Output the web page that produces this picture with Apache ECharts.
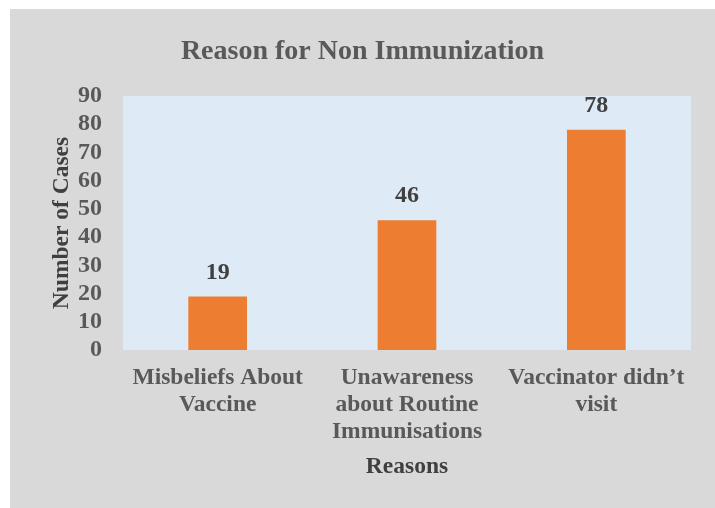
<!DOCTYPE html>
<html><head><meta charset="utf-8">
<script src="https://cdn.jsdelivr.net/npm/echarts@6/dist/echarts.min.js"></script>
<style>html,body{margin:0;padding:0;background:#fff;}#c{position:absolute;left:10px;top:9px;width:705px;height:499px;background:#d9d9d9;}</style>
</head><body><div id="c"></div>
<script>
const categories = ["Misbeliefs About\nVaccine", "Unawareness\nabout Routine\nImmunisations", "Vaccinator didn\u2019t\nvisit"];
const cases = [19, 46, 78];
const yTicks = {min: 0, max: 90, interval: 10};
const chart = echarts.init(document.getElementById('c'));
const font = '"Liberation Serif", "Times New Roman", serif';
chart.setOption({
  backgroundColor: '#d9d9d9',
  title: {text: 'Reason for Non Immunization', left: 'center', top: 24,
    textStyle: {fontFamily: font, fontSize: 28, fontWeight: 'bold', color: '#595959'}},
  grid: {left: 113, right: 24, top: 87, bottom: 158, show: true, backgroundColor: '#deebf7', borderWidth: 0},
  xAxis: {type: 'category', data: categories,
    axisLine: {show: false}, axisTick: {show: false},
    axisLabel: {fontFamily: font, fontSize: 23.5, fontWeight: 'bold', color: '#595959', lineHeight: 27, margin: 14, interval: 0},
    name: 'Reasons', nameLocation: 'middle', nameGap: 105, nameMoveOverlap: false,
    nameTextStyle: {fontFamily: font, fontSize: 23.5, fontWeight: 'bold', color: '#404040'}},
  yAxis: {type: 'value', min: yTicks.min, max: yTicks.max, interval: yTicks.interval,
    splitLine: {show: false}, axisLine: {show: false}, axisTick: {show: false},
    axisLabel: {fontFamily: font, fontSize: 24, fontWeight: 'bold', color: '#595959', margin: 21},
    name: 'Number of Cases', nameLocation: 'middle', nameGap: 49, nameRotate: 90, nameMoveOverlap: false,
    nameTextStyle: {fontFamily: font, fontSize: 23.5, fontWeight: 'bold', color: '#404040'}},
  series: [{type: 'bar', data: cases, barWidth: '31%', itemStyle: {color: '#ed7d31'},
    label: {show: true, position: 'top', distance: 12, fontFamily: font, fontSize: 24, fontWeight: 'bold', color: '#404040'}}]
});
</script></body></html>
